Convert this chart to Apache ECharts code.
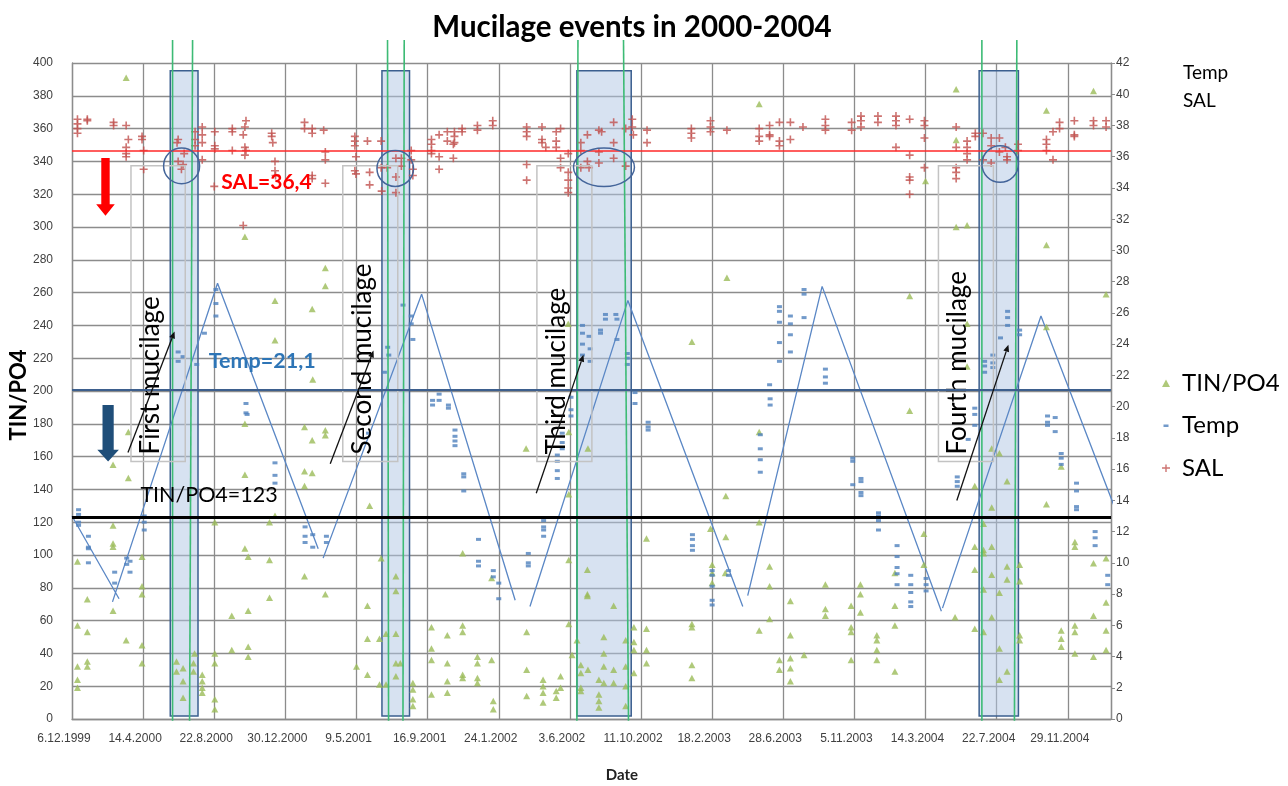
<!DOCTYPE html>
<html>
<head>
<meta charset="utf-8">
<script src="https://cdn.jsdelivr.net/npm/echarts/dist/echarts.min.js"></script>
<style>
html,body{margin:0;padding:0;background:#fff;}
#chart{width:1288px;height:786px;}
</style>
</head>
<body>
<div id="chart"></div>
<script>
// ---------------- DATA (x = days since 6.12.1999) ----------------
const xTickLabels = ['6.12.1999','14.4.2000','22.8.2000','30.12.2000','9.5.2001','16.9.2001','24.1.2002','3.6.2002','11.10.2002','18.2.2003','28.6.2003','5.11.2003','14.3.2004','22.7.2004','29.11.2004'];
const xTickStep = 130;
const xMaxDay = 1899;

// TIN/PO4 (left axis)
const tinPo4Data = [
 [99,391],[316,294],[463,275],[463,264],[371,255],[439,250],[371,231],[440,207],
 [103,175],[75,155],[103,147],[316,149],[425,178],[463,176],[463,173],[439,170],[425,151],[439,150],[425,142],[544,130],[316,180],
 [371,124],[361,120],[261,120],[75,118],[75,105],[75,107],[10,96],[128,99],[316,104],[322,99],[361,97],[425,87],[128,81],[128,76],
 [463,76],[28,73],[75,66],[292,63],[322,66],[361,74],[10,57],[28,53],[99,48],[128,45],[292,42],[322,44],[261,40],[10,32],[28,35],
 [28,32],[128,34],[261,34],[322,38],[10,24],[10,19],
 [191,35],[191,29],[203,31],[203,23],[222,34],[222,29],[203,13],[224,40],
 [238,27],[238,23],[238,19],[238,16],[261,12],[261,6],
 [540,69],[540,49],[520,32],[540,27],[565,98],
 [592,87],[592,78],[562,49],[574,52],[592,52],[592,34],[600,34],[592,26],[574,21],[562,21],
 [623,22],[623,18],[623,12],[623,8],
 [1256,375],[1197,269],[1133,230],[907,241],
 [908,175],[830,165],[943,165],[908,137],[1256,175],[1195,136],[1256,120],[1167,116],[1195,111],[1050,110],[714,101],[908,97],
 [942,91],[767,86],[1170,94],[1170,89],[1194,89],[1170,83],[942,76],[942,75],[990,69],
 [657,56],[714,57],[714,53],[686,51],[831,53],[908,58],[972,50],[1027,56],[1027,47],[1027,42],[1050,55],[1050,42],[1050,34],
 [1133,58],[1133,56],[1256,54],
 [657,43],[657,36],[657,15],[686,34],[686,23],[686,16],[714,27],[714,25],[741,38],[741,34],[741,25],[741,22],[767,36],[770,11],
 [770,6],[831,30],[831,14],[861,24],[861,20],[861,16],[861,10],[885,17],[885,13],[893,26],[893,19],[914,39],[923,48],[930,33],
 [930,28],[930,19],[930,17],[943,30],[963,24],[963,15],[963,11],[963,7],[972,40],[972,32],[972,22],[990,30],[990,22],[1012,48],
 [1012,32],[1012,20],[1012,8],[1027,28],[1133,33],[1133,25],
 [1616,384],[1616,353],[1560,328],[1616,300],[1636,301],[1781,371],[1781,289],[1867,383],[1890,259],[1531,258],[1636,241],[1781,239],[1636,215],
 [1531,188],[1275,93],[1275,81],[1275,61],[1293,36],[1293,30],[1313,72],[1313,51],[1313,37],[1313,31],[1313,23],[1338,39],
 [1377,82],[1377,67],[1377,63],[1424,69],[1424,56],[1424,53],[1424,36],[1441,82],[1441,76],[1441,65],[1471,51],[1471,48],
 [1471,42],[1471,36],[1504,89],[1504,69],[1504,57],[1504,29],[1557,113],[1557,94],[1614,62],[1650,142],[1650,105],[1650,91],
 [1650,55],[1666,119],[1666,103],[1666,101],[1666,79],[1666,53],[1681,165],[1681,129],[1681,105],[1681,88],[1681,62],[1695,162],
 [1695,77],[1695,43],[1695,24],[1709,145],[1709,93],[1709,85],[1709,29],[1732,94],[1732,84],[1732,51],[1732,48],[1781,131],
 [1808,154],[1808,54],[1808,49],[1808,44],[1833,108],[1833,105],[1833,57],[1833,53],[1833,40],[1867,95],[1867,63],[1867,38],
 [1890,98],[1890,71],[1890,54],[1890,42]
];

// Temp (right axis)
const tempData = [
 [12,13.4],[12,13.1],[12,12.6],[12,12.4],[30,11.7],[30,11.0],[30,10.9],[30,10.0],[78,9.4],[78,8.7],[100,10.3],[100,9.9],[106,10.1],
 [106,9.4],[132,13.0],[132,12.6],[132,12.1],[318,20.2],[318,19.6],[320,19.5],[371,16.4],[371,15.6],[371,15.1],[426,12.3],[426,11.7],
 [426,11.3],[440,11.8],[440,11.0],[465,11.7],[465,11.3],[542,18.3],
 [263,27.5],[263,26.6],[263,25.8],[242,24.7],[194,23.5],[194,22.9],[203,23.2],[228,22.7],
 [620,25.8],[620,25.3],[623,24.3],[605,26.5],[577,23.8],[579,23.3],[571,22.2],
 [933,25.2],[933,24.7],[945,24.5],[933,24.0],[947,23.7],[933,23.3],[947,22.9],
 [966,24.9],[966,24.7],[975,25.9],[975,25.6],[994,25.9],[996,25.6],[996,24.3],[1015,23.4],[1015,23.1],[1015,22.7],
 [659,20.4],[659,20.1],[671,20.8],[671,20.4],[688,20.1],[688,19.9],[700,18.5],[700,18.1],[700,17.8],[700,17.5],[716,15.7],[716,15.5],
 [716,14.6],[743,11.5],[743,10.1],[743,9.8],[770,9.5],[770,9.1],[780,8.7],[780,7.7],[834,10.6],[834,10.0],[834,9.8],[862,12.7],
 [862,12.3],[862,12.1],[862,11.7],[887,16.9],[887,16.5],[887,15.9],[887,15.4],[896,18.3],[896,17.7],[896,17.3],[912,20.6],[912,19.8],
 [912,19.4],[1029,20.9],[1029,20.2],[1053,19.0],[1053,18.7],[1053,18.5],[1134,11.8],[1134,11.5],[1134,11.1],[1134,10.8],[1170,9.5],
 [1170,9.2],[1170,8.5],[1170,7.6],[1170,7.3],[1200,9.5],[1200,9.2],[1258,18.2],[1258,17.3],[1258,16.6],[1258,15.8],
 [1276,20.5],[1276,20.1],[1275,21.4],[1293,26.4],[1293,26.1],[1293,25.4],[1293,24.1],[1293,22.9],[1313,25.8],[1313,25.3],[1313,24.6],
 [1313,23.5],[1338,27.5],[1338,27.2],[1338,25.7],[1377,22.4],[1377,21.9],[1377,21.5],
 [1427,16.7],[1427,16.5],[1427,15.0],[1442,15.4],[1442,15.2],[1442,14.5],[1442,14.3],[1474,13.2],[1474,13.0],[1474,12.7],[1474,12.1],
 [1508,11.1],[1508,10.4],[1508,9.7],[1508,9.3],[1508,8.6],[1533,9.2],[1533,8.6],[1533,8.1],[1533,7.5],[1533,7.2],[1561,9.0],[1561,8.6],
 [1561,8.2],[1618,15.5],[1618,15.2],[1618,14.9],[1650,19.9],[1650,19.5],[1650,18.8],[1638,17.9],
 [1668,22.9],[1668,22.6],[1668,22.2],[1683,23.3],[1683,22.8],[1683,22.5],[1697,24.4],[1710,26.1],[1710,25.7],[1710,25.2],[1732,24.9],[1732,24.6],
 [1783,19.4],[1783,19.0],[1783,18.8],[1797,19.3],[1797,18.4],[1808,17.0],[1808,16.7],[1808,16.3],[1836,15.1],[1836,14.6],[1836,13.6],
 [1836,13.4],[1870,12.0],[1870,11.6],[1870,11.1],[1893,9.2],[1893,8.6]
];

// SAL (right axis)
const salData = [
 [10,38.4],[10,38.1],[10,37.8],[10,37.5],[28,38.4],[28,38.3],[76,38.2],[76,38.0],[99,38.0],[103,37.1],[99,36.6],[99,36.2],[99,36.0],
 [128,37.3],[128,37.1],[131,36.4],[131,35.2],
 [194,37.1],[192,36.9],[205,36.2],[194,35.7],[203,35.5],[200,35.2],
 [225,37.6],[225,37.1],[225,36.7],[238,37.9],[238,37.4],[238,36.9],[238,35.8],[261,37.6],[261,36.7],[261,36.5],[260,34.1],[293,37.8],
 [293,37.6],[293,36.4],[318,38.3],[316,37.9],[313,37.4],[316,36.6],[318,36.4],[316,36.1],[313,31.6],[365,37.5],[365,37.3],[367,36.9],
 [371,35.7],[371,35.1],[372,34.8],[425,38.2],[425,37.8],[439,37.8],[439,37.5],[460,37.7],[463,36.3],[463,35.8],[439,34.8],[439,34.6],
 [463,34.3],
 [517,37.3],[517,37.0],[517,36.7],[540,37.0],[565,37.0],[519,36.0],[517,35.1],[519,34.9],[544,35.0],[544,34.2],[565,35.3],[566,33.8],
 [576,35.3],[592,35.9],[592,34.7],[602,35.4],[602,35.9],[620,36.4],[620,35.8],[623,35.2],[623,34.8],[592,33.7],
 [657,37.1],[657,36.8],[657,36.4],[657,36.2],[671,37.4],[671,36.0],[671,35.2],[686,37.6],[686,37.0],[697,36.8],[697,35.9],[699,37.6],
 [699,37.3],[699,36.9],[713,37.8],[713,37.6],[741,38.0],[741,37.7],[769,38.3],[769,38.0],
 [831,37.9],[831,37.6],[831,37.3],[831,35.5],[831,34.5],[859,37.9],[859,37.1],[859,36.9],[866,36.6],[885,37.6],[885,37.0],[885,36.6],
 [893,37.8],[893,35.9],[893,35.3],[907,36.2],[907,35.0],[907,34.5],[907,34.0],[907,33.7],
 [930,36.9],[930,36.4],[930,35.3],[942,37.4],[942,35.7],[963,37.7],[963,36.3],[968,37.6],[963,35.6],[990,38.2],[990,36.9],[990,35.9],
 [1012,37.8],[1012,35.4],[1024,38.4],[1024,37.9],[1026,37.4],[945,35.3],
 [1051,37.7],[1051,36.9],[1132,37.8],[1132,37.5],[1132,37.2],[1167,38.3],[1167,37.9],[1167,37.6],[1197,37.7],[1256,37.8],[1256,37.3],
 [1256,37.0],
 [1275,38.0],[1275,37.4],[1275,37.3],[1293,38.2],[1293,37.0],[1293,36.7],[1313,38.2],[1313,37.1],[1336,37.9],[1377,38.4],[1377,38.0],
 [1377,37.7],[1425,38.2],[1425,37.7],[1442,38.6],[1442,38.3],[1442,37.9],[1473,38.6],[1473,38.2],[1506,38.6],[1506,38.3],[1506,38.0],
 [1531,38.4],[1558,38.3],[1558,38.0],[1558,37.2],[1506,36.6],[1531,36.1],[1558,35.3],[1531,34.7],[1531,34.5],[1531,33.6],[1616,37.9],
 [1616,36.6],[1616,35.3],[1616,35.0],[1616,34.6],[1636,37.0],[1636,36.6],[1636,36.2],[1636,35.8],[1651,37.5],[1651,37.3],
 [1665,37.5],[1665,35.8],[1680,37.2],[1680,36.7],[1680,35.6],[1695,37.2],[1695,36.3],[1706,36.6],[1709,36.0],[1709,35.8],[1729,36.8],
 [1729,36.4],
 [1781,37.1],[1781,36.8],[1781,36.4],[1793,35.8],[1793,37.6],[1805,38.2],[1805,37.8],[1832,38.3],[1832,37.4],[1832,37.3],[1867,38.3],
 [1867,38.0],[1890,38.3],[1890,37.9]
];

// Seasonal temperature sketch line (right axis), '-' breaks the segments
const tempTrend = [
 [0,13.0],[86,7.7],['-','-'],
 [74,7.5],[266,27.9],[450,10.9],['-','-'],
 [459,10.3],[639,27.2],[810,7.6],['-','-'],
 [837,7.2],[1016,26.8],[1226,7.2],['-','-'],
 [1235,7.9],[1371,27.7],[1589,6.9],['-','-'],
 [1591,7.1],[1771,25.8],[1960,8.6]
];

// Reference levels
const salRef = 36.4, tempRef = 21.1, tinRef = 123;
const refLabelTexts = ['SAL=36,4','Temp=21,1','TIN/PO4=123'];
const refLabelPos = [[273,327.6],[250,218],[125,136.6]]; // [day, left-axis value]

// Mucilage periods [startDay, endDay, topValue, bottomValue] (left axis)
const mucilagePeriods = [[179.6,230.3,395.2,1.8],[566.5,616.9,395.2,1.8],[922.8,1022.1,395.2,1.8],[1658,1729.8,395.2,1.8]];
// Green event lines [dayTop, dayBottom, topValue, bottomValue]
const eventLines = [
 [183.8,183.8,414,-1],[220.4,214.9,414,-1],
 [576.7,578.6,414,-1],[607.2,604.9,414,-1],
 [924.7,922.8,414,-1],[1008,1017.1,414,-1],
 [1663,1663,414,-1],[1726.9,1722.5,414,-1]
];
// Label boxes [x0, x1, top, bottom] (left axis) and their texts
const labelBoxes = [[107.8,207,337.3,157],[494.9,595.4,337.3,157],[849.7,950.2,337.3,157],[1583.6,1684.1,337.3,157]];
const labelBoxTexts = ['First mucilage','Second mucilage','Third mucilage','Fourth mucilage'];
// Thin arrows [x0,y0,x1,y1] (left axis)
const thinArrows = [[102.3,162.5,187.5,236.3],[472,155.6,551.1,224.7],[848.5,137.7,934.9,222.1],[1617.2,133.2,1711.5,228.2]];
// Salinity circles [centerDay, centerSAL, radiusDays, radiusSAL] (right axis)
const salCircles = [[200.3,35.41,32.9,1.14],[590.8,35.25,33.4,1.15],[972.3,35.33,55.7,1.23],[1696.4,35.53,33.4,1.17]];
// Block arrows [day, startValue, tipValue] (left axis)
const blockArrows = [[61.2,342,306.8],[66,191.5,157]];
const blockArrowStyles = [
 {color:'#ff0000', shaft:4.2, head:9.3, headLen:11.5},
 {color:'#1f4e79', shaft:5.6, head:10.8, headLen:11.7}
];

// ---------------- CHART ----------------
const chart = echarts.init(document.getElementById('chart'), null, {renderer:'canvas'});
const gridColor = '#8c8c8c';
const labelFont = 'Liberation Sans';
const bigFont = 'Lato';
const plusPath = 'path://M3.2,0H4.8V3.2H8V4.8H4.8V8H3.2V4.8H0V3.2H3.2Z';

const option = {
  animation:false,
  backgroundColor:'#fff',
  grid:{left:72, right:177, top:63, bottom:67, containLabel:false},
  legend:{
    orient:'vertical', left:1156, top:365, itemWidth:16, itemHeight:10, itemGap:16.5,
    selectedMode:false,
    textStyle:{fontSize:24, lineHeight:26, fontFamily:bigFont, color:'#000'},
    data:[
      {name:'TIN/PO4', icon:'path://M0,0M16,10M5,1.5L9,9L1,9Z'},
      {name:'Temp', icon:'path://M0,0M16,10M2.5,4H7.5V6.5H2.5Z'},
      {name:'SAL', icon:'path://M0,0M16,10M4.3,1.5H5.7V4.3H9V5.7H5.7V9H4.3V5.7H1V4.3H4.3Z'}
    ]
  },
  xAxis:{
    type:'value', min:0, max:xMaxDay, interval:xTickStep,
    axisLine:{show:true, lineStyle:{color:gridColor, width:1.3}},
    axisTick:{show:false},
    splitLine:{show:true, lineStyle:{color:gridColor, width:1.3}},
    axisLabel:{
      showMaxLabel:false, margin:14, fontSize:12, color:'#404040', fontFamily:labelFont,
      padding:[0,16,0,0],
      formatter:function(v){ const i=Math.round(v/xTickStep); return Math.abs(v-i*xTickStep)<1e-6 && xTickLabels[i] ? xTickLabels[i] : ''; }
    }
  },
  yAxis:[
    {type:'value', min:0, max:400, interval:20, position:'left',
     axisLine:{show:true, lineStyle:{color:gridColor, width:1.3}},
     axisTick:{show:false},
     splitLine:{show:true, lineStyle:{color:gridColor, width:1.3}},
     axisLabel:{margin:19, fontSize:12, color:'#404040', fontFamily:labelFont}},
    {type:'value', min:0, max:42, interval:2, position:'right',
     axisLine:{show:true, lineStyle:{color:gridColor, width:1.3}},
     axisTick:{show:true, inside:false, length:4, lineStyle:{color:gridColor}},
     splitLine:{show:false},
     axisLabel:{margin:5, fontSize:12, color:'#404040', fontFamily:labelFont}}
  ],
  series:[
    { // mucilage period boxes
      type:'custom', name:'periods', xAxisIndex:0, yAxisIndex:0, z:1, clip:false, silent:true,
      encode:{x:[0,1], y:[2,3]}, data:mucilagePeriods,
      renderItem:function(params, api){
        const p0 = api.coord([api.value(0), api.value(2)]);
        const p1 = api.coord([api.value(1), api.value(3)]);
        return {type:'rect', shape:{x:p0[0], y:p0[1], width:p1[0]-p0[0], height:p1[1]-p0[1]},
          style:{fill:'rgba(176,198,228,0.5)', stroke:'#3b5f8f', lineWidth:1.5}};
      }
    },
    {
      name:'TIN/PO4', type:'scatter', yAxisIndex:0, z:3, data:tinPo4Data,
      symbol:'triangle', symbolSize:[7,6.5], itemStyle:{color:'#9bbb59'},
      markLine:{silent:true, symbol:'none', label:{show:false},
        lineStyle:{color:'#000', width:3, type:'solid'}, data:[{yAxis:tinRef}]}
    },
    {
      name:'Temp', type:'scatter', yAxisIndex:1, z:3, data:tempData,
      symbol:'rect', symbolSize:[5,3], itemStyle:{color:'#4f81bd'},
      markLine:{silent:true, symbol:'none', label:{show:false},
        lineStyle:{color:'#3d5f8d', width:2, type:'solid'}, data:[{yAxis:tempRef}]}
    },
    {
      name:'SAL', type:'scatter', yAxisIndex:1, z:3, data:salData,
      symbol:plusPath, symbolSize:8, itemStyle:{color:'#c0504d'},
      markLine:{silent:true, symbol:'none', label:{show:false},
        lineStyle:{color:'rgba(255,40,40,0.75)', width:2, type:'solid'}, data:[{yAxis:salRef}]}
    },
    {
      name:'Temp trend', type:'line', yAxisIndex:1, z:3, data:tempTrend, clip:false,
      symbol:'none', connectNulls:false, silent:true,
      lineStyle:{color:'#5a87c5', width:1.3}
    },
    { // green event lines
      type:'custom', name:'events', yAxisIndex:0, z:4, clip:false, silent:true,
      encode:{x:[0,1], y:[2,3]}, data:eventLines,
      renderItem:function(params, api){
        const a = api.coord([api.value(0), api.value(2)]);
        const b = api.coord([api.value(1), api.value(3)]);
        return {type:'line', shape:{x1:a[0], y1:a[1], x2:b[0], y2:b[1]}, style:{stroke:'#3dbb75', lineWidth:1.6}};
      }
    },
    { // label boxes with rotated text
      type:'custom', name:'labelBoxes', yAxisIndex:0, z:4, clip:false, silent:true,
      encode:{x:[0,1], y:[2,3]}, data:labelBoxes,
      renderItem:function(params, api){
        const p0 = api.coord([api.value(0), api.value(2)]);
        const p1 = api.coord([api.value(1), api.value(3)]);
        return {type:'group', children:[
          {type:'rect', shape:{x:p0[0], y:p0[1], width:p1[0]-p0[0], height:p1[1]-p0[1]},
           style:{fill:'none', stroke:'#c3c3c3', lineWidth:1.5}},
          {type:'text', x:p0[0]+19.5, y:p1[1]-7, rotation:Math.PI/2,
           style:{text:labelBoxTexts[params.dataIndex], fill:'#000', fontSize:26, fontFamily:bigFont,
                  align:'left', verticalAlign:'middle'}}
        ]};
      }
    },
    { // thin arrows
      type:'custom', name:'arrows', yAxisIndex:0, z:5, clip:false, silent:true,
      encode:{x:[0,2], y:[1,3]}, data:thinArrows,
      renderItem:function(params, api){
        const a = api.coord([api.value(0), api.value(1)]);
        const b = api.coord([api.value(2), api.value(3)]);
        const ang = Math.atan2(b[1]-a[1], b[0]-a[0]);
        const L = 7, W = 3;
        const bx = b[0]-L*Math.cos(ang), by = b[1]-L*Math.sin(ang);
        const nx = -Math.sin(ang)*W, ny = Math.cos(ang)*W;
        return {type:'group', children:[
          {type:'line', shape:{x1:a[0], y1:a[1], x2:bx, y2:by}, style:{stroke:'#111', lineWidth:1.3}},
          {type:'polygon', shape:{points:[[b[0],b[1]],[bx+nx,by+ny],[bx-nx,by-ny]]}, style:{fill:'#111'}}
        ]};
      }
    },
    { // circles around salinity minima
      type:'custom', name:'circles', yAxisIndex:1, z:5, clip:false, silent:true,
      encode:{x:[0], y:[1]}, data:salCircles,
      renderItem:function(params, api){
        const c = api.coord([api.value(0), api.value(1)]);
        const s = api.size([api.value(2), api.value(3)]);
        return {type:'ellipse', shape:{cx:c[0], cy:c[1], rx:s[0], ry:s[1]},
          style:{fill:'none', stroke:'#44659a', lineWidth:1.5}};
      }
    },
    { // block arrows
      type:'custom', name:'blockArrows', yAxisIndex:0, z:5, clip:false, silent:true,
      encode:{x:[0], y:[1,2]}, data:blockArrows,
      renderItem:function(params, api){
        const st = blockArrowStyles[params.dataIndex];
        const top = api.coord([api.value(0), api.value(1)]);
        const tip = api.coord([api.value(0), api.value(2)]);
        const cx = top[0], hb = tip[1]-st.headLen;
        return {type:'polygon', shape:{points:[
          [cx-st.shaft, top[1]],[cx+st.shaft, top[1]],[cx+st.shaft, hb],[cx+st.head, hb],
          [cx, tip[1]],[cx-st.head, hb],[cx-st.shaft, hb]]}, style:{fill:st.color}};
      }
    },
    { // reference line labels
      type:'custom', name:'refLabels', yAxisIndex:0, z:6, clip:false, silent:true,
      encode:{x:[0], y:[1]}, data:refLabelPos,
      renderItem:function(params, api){
        const p = api.coord([api.value(0), api.value(1)]);
        const styles = [
          {fill:'#ff0000', fontWeight:'bold', fontSize:21},
          {fill:'#2e75b6', fontWeight:'bold', fontSize:21.5},
          {fill:'#000', fontWeight:'normal', fontSize:21.5}
        ];
        const s = styles[params.dataIndex];
        return {type:'text', x:p[0], y:p[1], style:{text:refLabelTexts[params.dataIndex], fill:s.fill,
          fontWeight:s.fontWeight, fontSize:s.fontSize, fontFamily:bigFont, align:'left', verticalAlign:'middle'}};
      }
    }
  ],
  graphic:[
    {type:'text', x:632, y:27, style:{text:'Mucilage events in 2000-2004', fill:'#000', fontSize:29.5, fontWeight:'bold', fontFamily:bigFont, align:'center', verticalAlign:'middle'}},
    {type:'text', x:19, y:395, rotation:Math.PI/2, style:{text:'TIN/PO4', fill:'#000', fontSize:22, fontWeight:'bold', fontFamily:bigFont, align:'center', verticalAlign:'middle'}},
    {type:'text', x:622, y:775, style:{text:'Date', fill:'#222', fontSize:15, fontWeight:'bold', fontFamily:bigFont, align:'center', verticalAlign:'middle'}},
    {type:'text', x:1183, y:73, style:{text:'Temp', fill:'#000', fontSize:19, fontFamily:bigFont, align:'left', verticalAlign:'middle'}},
    {type:'text', x:1183, y:101, style:{text:'SAL', fill:'#000', fontSize:19, fontFamily:bigFont, align:'left', verticalAlign:'middle'}}
  ]
};
chart.setOption(option);
</script>
</body>
</html>
